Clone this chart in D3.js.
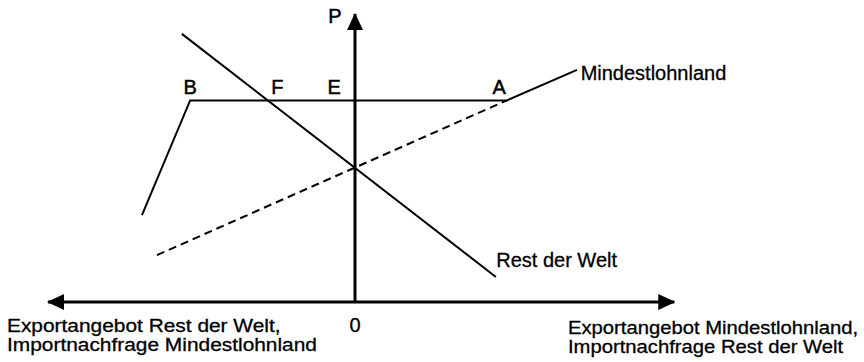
<!DOCTYPE html>
<html>
<head>
<meta charset="utf-8">
<script src="https://cdn.jsdelivr.net/npm/d3@7"></script>
<style>
  html, body { margin: 0; padding: 0; background: #fff; }
  svg { display: block; }
  text { font-family: "Liberation Sans", Arial, sans-serif; fill: #000; stroke: #000; stroke-width: 0.3px; }
</style>
</head>
<body>
<svg id="chart" width="864" height="362"></svg>
<script>
// ---- data (abstract quantity / price units) ----
const axisX = [-10, 10.4];          // horizontal axis extent (quantity)
const axisY = [0, 10];              // vertical axis extent (price)
const mindestlohnland = [           // export supply of minimum-wage country (kinked)
  {q: -6.94, p: 3.02},
  {q: -5.37, p: 7.0},
  {q: 4.95,  p: 7.0},
  {q: 7.23,  p: 8.06}
];
const freeSupply = [                // dashed (without minimum wage)
  {q: -6.45, p: 1.63},
  {q: 4.95,  p: 7.0}
];
const restDerWelt = [               // rest of world
  {q: -5.64, p: 9.31},
  {q: 4.59,  p: 0.87}
];
const pointLabels = [
  {t: "B", q: -5.37, p: 7.0},
  {t: "F", q: -2.53, p: 7.0},
  {t: "E", q: -0.68, p: 7.0},
  {t: "A", q: 4.7,   p: 7.0}
];
const curveLabels = [
  {t: "Mindestlohnland", q: 7.35, p: 7.7},
  {t: "Rest der Welt",   q: 4.6,  p: 1.22}
];
const axisLabelP = "P";
const axisLabelZero = "0";
const leftAxisText = ["Exportangebot Rest der Welt,", "Importnachfrage Mindestlohnland"];
const rightAxisText = ["Exportangebot Mindestlohnland,", "Importnachfrage Rest der Welt"];

// ---- scales ----
const x = d3.scaleLinear().domain([-10, 10]).range([48, 662]);
const y = d3.scaleLinear().domain([0, 10]).range([302, 14]);

const svg = d3.select("#chart");

const defs = svg.append("defs");
defs.append("marker")
  .attr("id", "arrow")
  .attr("markerUnits", "userSpaceOnUse")
  .attr("viewBox", "0 -8 17 16")
  .attr("refX", 16).attr("refY", 0)
  .attr("markerWidth", 17).attr("markerHeight", 16)
  .attr("orient", "auto-start-reverse")
  .append("path").attr("d", "M0,-8L17,0L0,8Z").attr("fill", "#000");

const line = d3.line().x(d => x(d.q)).y(d => y(d.p));

// axes
svg.append("path")
  .attr("d", line([{q: axisX[0], p: 0}, {q: axisX[1], p: 0}]))
  .attr("stroke", "#000").attr("stroke-width", 3).attr("fill", "none")
  .attr("marker-start", "url(#arrow)").attr("marker-end", "url(#arrow)");
svg.append("path")
  .attr("d", line([{q: 0, p: axisY[0]}, {q: 0, p: axisY[1]}]))
  .attr("stroke", "#000").attr("stroke-width", 3).attr("fill", "none")
  .attr("marker-end", "url(#arrow)");

// curves
svg.append("path").attr("d", line(freeSupply))
  .attr("stroke", "#000").attr("stroke-width", 2).attr("fill", "none")
  .attr("stroke-dasharray", "8,5");
svg.append("path").attr("d", line(mindestlohnland))
  .attr("stroke", "#000").attr("stroke-width", 2).attr("fill", "none")
  .attr("stroke-linejoin", "miter");
svg.append("path").attr("d", line(restDerWelt))
  .attr("stroke", "#000").attr("stroke-width", 2).attr("fill", "none");

// point labels
svg.selectAll("text.pt").data(pointLabels).enter().append("text")
  .attr("class", "pt")
  .attr("x", d => x(d.q)).attr("y", d => y(d.p) - 6)
  .attr("text-anchor", "middle")
  .attr("font-size", 20)
  .style("stroke-width", 0.5)
  .text(d => d.t);

// curve labels
svg.selectAll("text.cl").data(curveLabels).enter().append("text")
  .attr("class", "cl")
  .attr("x", d => x(d.q)).attr("y", d => y(d.p))
  .attr("font-size", 20)
  .text(d => d.t);

// axis labels
svg.append("text").attr("x", x(0) - 20).attr("y", y(axisY[1]) + 9)
  .attr("text-anchor", "middle").attr("font-size", 20)
  .style("stroke-width", 0.5)
  .text(axisLabelP);
svg.append("text").attr("x", x(0)).attr("y", y(0) + 30)
  .attr("text-anchor", "middle").attr("font-size", 20)
  .text(axisLabelZero);

function axisText(lines, x0, y0, sx) {
  lines.forEach((t, i) => {
    svg.append("g")
      .attr("transform", `translate(${x0},${y0 + i * 19}) scale(${sx},1)`)
      .append("text").attr("x", 0).attr("y", 0)
      .attr("font-size", 18.5)
      .text(t);
  });
}
axisText(leftAxisText, 7, y(0) + 30, 1.13);
axisText(rightAxisText, 568, y(0) + 32, 1.095);
</script>
</body>
</html>
